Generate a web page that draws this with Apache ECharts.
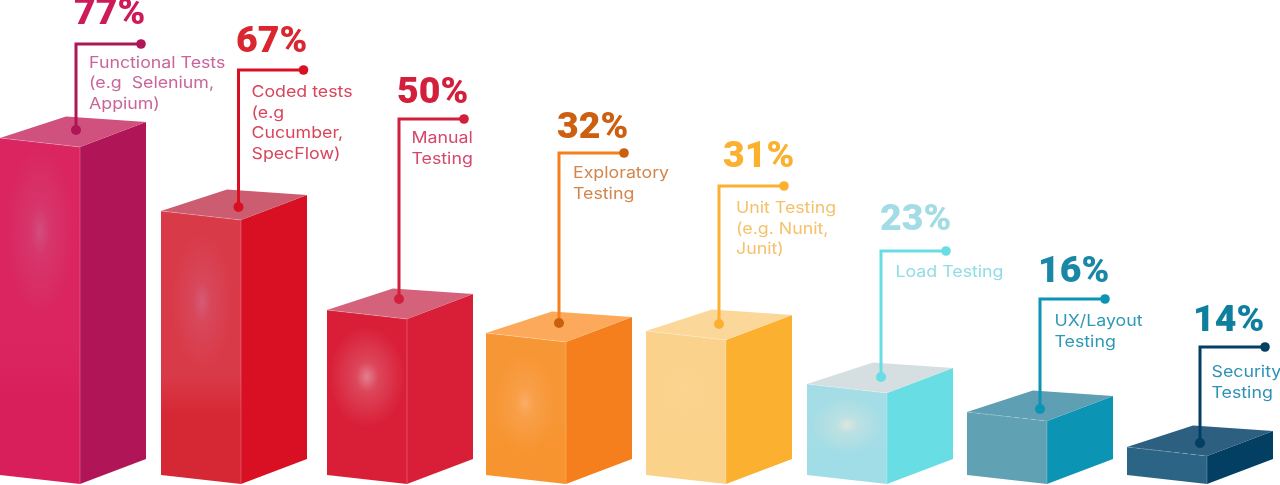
<!DOCTYPE html>
<html>
<head>
<meta charset="utf-8">
<style>html,body{margin:0;padding:0;background:#fff}#chart{width:1280px;height:485px}</style>
<script src="https://cdn.jsdelivr.net/npm/echarts@6/dist/echarts.min.js"></script>
</head>
<body>
<div id="chart"></div>
<script>
// Data
const categories = ['Functional Tests\n(e.g  Selenium,\nAppium)', 'Coded tests\n(e.g\nCucumber,\nSpecFlow)', 'Manual\nTesting', 'Exploratory\nTesting', 'Unit Testing\n(e.g. Nunit,\nJunit)', 'Load Testing', 'UX/Layout\nTesting', 'Security\nTesting'];
const percentages = [77, 67, 50, 32, 31, 23, 16, 14];
// The source drawing does not scale its blocks to the printed percentage: these are block heights as drawn.
const drawnHeights = [337, 264, 165, 142, 144, 91, 63, 28];
// Height of each callout's elbow, same axis units
const calloutHeights = [440, 414, 365, 331, 298, 233, 185, 137];

// Styles
const frontTop = ['#da2560', '#d93a48', '#d91f38', '#f79634', '#fbd28c', '#a4dde6', '#60a1b4', '#2c6485'];
const frontBottom = ['#d81f5c', '#d62734', '#d91f38', '#f7942f', '#fbd28a', '#a0dde6', '#60a1b4', '#2c6485'];
const sideColors = ['#b01657', '#d90f23', '#d91f38', '#f57e1d', '#fbb030', '#68dde3', '#0b94b4', '#023f62'];
const topColors = ['#d0507e', '#cc5c70', '#d4627a', '#fca95c', '#fcd79a', '#d5dfe1', '#5f9fb3', '#2c5f80'];
const numberColors = ['#cf1a5a', '#d9262f', '#d21f3c', '#cd5f10', '#fbb030', '#a3dce4', '#1a87a6', '#0f7f9e'];
const lineColors = ['#b01657', '#d90f23', '#d21f3c', '#f57e1d', '#fbb030', '#68dde3', '#0b94b4', '#023f62'];
const dotColors = ['#b01657', '#d90f23', '#d21f3c', '#c9600e', '#fbb030', '#68dde3', '#0b94b4', '#023f62'];
const textColors = ['#c9659a', '#d9455b', '#d6476c', '#d2864b', '#f5c16a', '#8fdde5', '#2d9ab5', '#2d92b5'];
// Soft highlight on each front face: [dx from block centre, height fraction, rx, ry, colour, peak alpha]
const glows = [[-40, 0.75, 34, 85, '208,85,130', 0.85], [-39, 0.69, 30, 68, '212,100,130', 0.8], [-40, 0.65, 38, 50, '228,160,170', 0.75], [-41, 0.57, 30, 50, '252,178,115', 0.8], [-41, 0.65, 28, 28, '250,214,150', 0.4], [-40, 0.65, 36, 28, '238,232,218', 0.8], null, null];
// Small per-block layout nudges (px)
const xNudges = [-0.5, -0.5, 4.5, 2.5, 1.5, 1.5, 0.5, -0.5];
const stemOffsets = [-4, -2.5, -8, -7, -7, -6, -7, -7];
const dotRises = [17, 13, 20, 19, 16, 16, 12, 13];
const numberOffsets = [-2, -2.5, -2, -2, 4, -1, -2, -7];
const numberRises = [29, 27, 25.5, 24.5, 28.5, 30.5, 26.5, 25.5];
const textOffsets = [13, 13, 12.5, 14, 17, 14.5, 14.5, 11.5];
const textDrops = [8.5, 12, 9, 10, 12, 11, 12, 15];
const FRONT_W = 80, SIDE_W = 66, FRONT_DY = 9, SIDE_DY = 25, BACK_DY = 30.5;

function renderBlock(params, api) {
  const i = api.value(0);
  const base = api.coord([i, 0]);
  const top = api.coord([i, api.value(1)]);
  const cx = base[0] + xNudges[i], yT = top[1], yB = base[1];
  const h = yB - yT;
  const children = [];
  // front face
  children.push({ type: 'polygon', shape: { points: [[cx - FRONT_W, yT - FRONT_DY], [cx, yT], [cx, yB], [cx - FRONT_W, yB - FRONT_DY]] },
    style: { fill: new echarts.graphic.LinearGradient(0, 0, 0, 1, [{ offset: 0, color: frontTop[i] }, { offset: 0.6, color: frontTop[i] }, { offset: 0.75, color: frontBottom[i] }, { offset: 1, color: frontBottom[i] }]) } });
  const g = glows[i];
  if (g) {
    const gy = yB - h * g[1];
    children.push({ type: 'circle', shape: { cx: 0, cy: 0, r: g[2] }, x: cx + g[0], y: gy, scaleY: g[3] / g[2],
      style: { fill: new echarts.graphic.RadialGradient(0.5, 0.5, 0.5, [{ offset: 0, color: 'rgba(' + g[4] + ',' + g[5] + ')' }, { offset: 0.3, color: 'rgba(' + g[4] + ',' + (g[5] * 0.4) + ')' }, { offset: 1, color: 'rgba(' + g[4] + ',0)' }]) } });
  }
  // side face
  children.push({ type: 'polygon', shape: { points: [[cx, yT], [cx + SIDE_W, yT - SIDE_DY], [cx + SIDE_W, yB - SIDE_DY], [cx, yB]] }, style: { fill: sideColors[i] } });
  // top face
  children.push({ type: 'polygon', shape: { points: [[cx - FRONT_W, yT - FRONT_DY], [cx, yT], [cx + SIDE_W, yT - SIDE_DY], [cx - FRONT_W + SIDE_W, yT - BACK_DY]] }, style: { fill: topColors[i] } });
  // light edges
  children.push({ type: 'line', shape: { x1: cx, y1: yT, x2: cx, y2: yB }, style: { stroke: 'rgba(255,255,255,0.22)', lineWidth: 1 } });
  children.push({ type: 'line', shape: { x1: cx - FRONT_W, y1: yT - FRONT_DY, x2: cx, y2: yT }, style: { stroke: 'rgba(255,255,255,0.22)', lineWidth: 1, lineDash: i >= 6 ? [5, 3] : null } });

  // callout
  const sx = cx + stemOffsets[i];
  const elbow = api.coord([i, calloutHeights[i]])[1];
  const dotY = yT - dotRises[i];
  const ex = sx + 65;
  children.push({ type: 'polyline', shape: { points: [[sx, dotY], [sx, elbow], [ex, elbow]] }, style: { stroke: lineColors[i], lineWidth: 3, fill: 'none' } });
  children.push({ type: 'circle', shape: { cx: sx, cy: dotY, r: 5 }, style: { fill: dotColors[i] } });
  children.push({ type: 'circle', shape: { cx: ex, cy: elbow, r: 4.8 }, style: { fill: dotColors[i] } });

  // texts
  children.push({ type: 'text', x: sx + numberOffsets[i], y: elbow - numberRises[i], scaleX: 1.04,
    style: { text: percentages[i] + '%', fill: numberColors[i], font: '900 36px Roboto, sans-serif', align: 'left', verticalAlign: 'middle' } });
  children.push({ type: 'text', x: sx + textOffsets[i], y: elbow + textDrops[i], scaleX: 1.11,
    style: { text: categories[i], fill: textColors[i], font: '400 16px Inter, sans-serif', lineHeight: 20.5, align: 'left', verticalAlign: 'top' } });
  return { type: 'group', children: children };
}

const chart = echarts.init(document.getElementById('chart'), null, { renderer: 'canvas' });
chart.setOption({
  animation: false,
  backgroundColor: '#ffffff',
  grid: { left: 0, top: 0, right: -8, bottom: 1, containLabel: false, outerBoundsMode: 'none' },
  xAxis: { type: 'category', data: categories.map(function (c, i) { return i; }), show: false },
  yAxis: { type: 'value', min: 0, max: 484, show: false },
  series: [{ type: 'custom', clip: false, renderItem: renderBlock, data: drawnHeights.map(function (h, i) { return [i, h]; }), encode: { x: 0, y: 1 } }]
});
</script>
</body>
</html>
